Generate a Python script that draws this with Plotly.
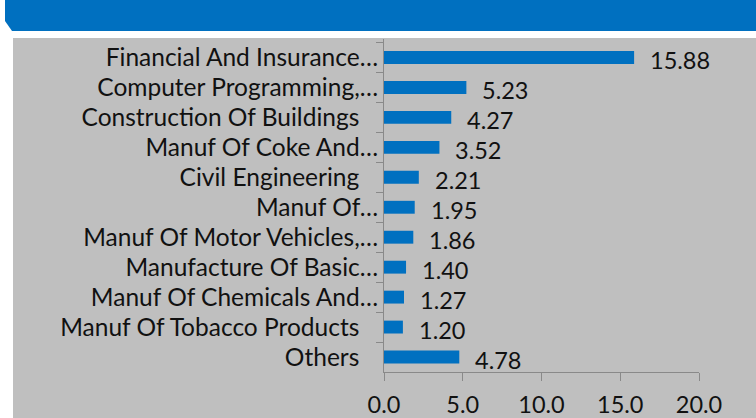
import plotly.graph_objects as go

# Sector shares (%), top to bottom
sectors = [
    "Financial And Insurance…",
    "Computer Programming,…",
    "Construc\u200ction Of Buildings\u00a0\u00a0\u00a0",
    "Manuf Of Coke And…",
    "Civil Engineering\u00a0\u00a0\u00a0",
    "Manuf Of…",
    "Manuf Of Motor Vehicles,…",
    "Manufacture Of Basic…",
    "Manuf Of Chemicals And…",
    "Manuf Of Tobacco Products\u00a0\u00a0\u00a0",
    "Others\u00a0\u00a0\u00a0",
]
shares = [15.88, 5.23, 4.27, 3.52, 2.21, 1.95, 1.86, 1.40, 1.27, 1.20, 4.78]
x_ticks = [0, 5, 10, 15, 20]

W, H = 756, 418
L, R, T, B = 384, 57, 39, 46
PW, PH = W - L - R, H - T - B

BLUE = "#0070C0"
PANEL = "#BFBFBF"
AXIS = "#898989"
INK = "#111111"
FONT = "Lato"


def px(x):
    return (x - L) / PW


def py(y):
    return (H - B - y) / PH


fig = go.Figure(
    go.Bar(
        x=shares,
        y=sectors,
        orientation="h",
        width=0.43,
        marker=dict(color=BLUE, line=dict(width=0)),
        hoverinfo="skip",
    )
)

# value labels to the right of each bar
for s, v in zip(sectors, shares):
    fig.add_annotation(
        x=v, y=s, xref="x", yref="y",
        text=f"{v:.2f}", showarrow=False,
        xanchor="left", yanchor="middle", xshift=14, yshift=-2.5,
        font=dict(family=FONT, size=23.5, color=INK),
    )

banner = (
    f"M {px(5)},{py(0)} L {px(W)},{py(0)} L {px(W)},{py(31)} "
    f"L {px(12)},{py(31)} L {px(5)},{py(21)} Z"
)

fig.update_layout(
    width=W, height=H,
    margin=dict(l=L, r=R, t=T, b=B, pad=0, autoexpand=False),
    paper_bgcolor="white",
    plot_bgcolor=PANEL,
    showlegend=False,
    font=dict(family=FONT, size=24.5, color=INK),
    shapes=[
        dict(type="rect", xref="paper", yref="paper",
             x0=px(13), x1=px(W), y0=py(H), y1=py(38),
             fillcolor=PANEL, line=dict(width=0), layer="below"),
        dict(type="path", xref="paper", yref="paper", path=banner,
             fillcolor=BLUE, line=dict(width=0), layer="below"),
    ],
    xaxis=dict(
        range=[0, 20], tickvals=x_ticks, tickformat=".1f",
        automargin=False,
        showgrid=False, zeroline=False,
        showline=True, linecolor=AXIS, linewidth=1,
        ticks="outside", ticklen=8, tickcolor=AXIS, tickwidth=1,
        ticklabelstandoff=4,
        tickfont=dict(family=FONT, size=23.5, color=INK),
    ),
    yaxis=dict(
        type="category", autorange="reversed",
        automargin=False,
        showgrid=False, zeroline=False,
        showline=True, linecolor=AXIS, linewidth=1,
        ticks="outside", ticklen=7, tickcolor=AXIS, tickwidth=1,
        tickson="boundaries",
        tickfont=dict(family=FONT, size=24.5, color=INK),
    ),
)

fig.write_html("out.html")
